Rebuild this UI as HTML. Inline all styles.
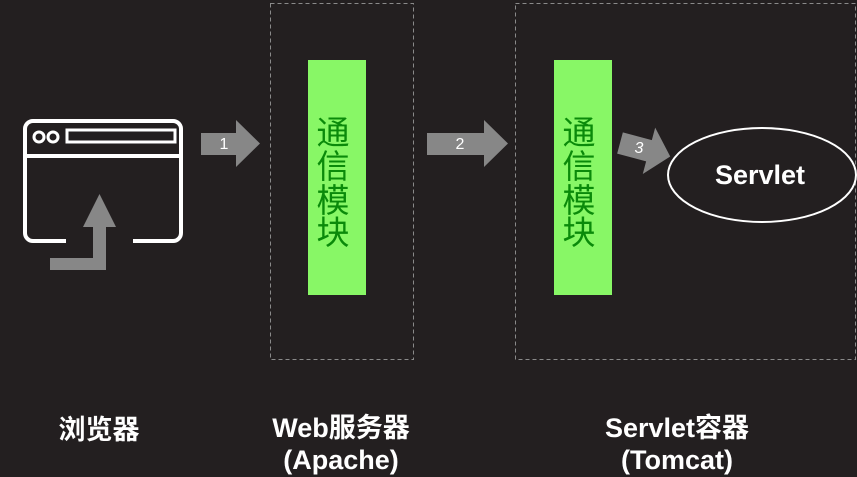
<!DOCTYPE html>
<html><head><meta charset="utf-8"><style>
html,body{margin:0;padding:0;background:#231f20;width:857px;height:477px;overflow:hidden}
</style></head><body>
<svg width="857" height="477" xmlns="http://www.w3.org/2000/svg" style="display:block">
<rect width="857" height="477" fill="#231f20"/>
<rect x="270.5" y="3.5" width="143" height="356" fill="none" stroke="#8a8a8a" stroke-dasharray="4,3"/>
<rect x="515.5" y="3.5" width="340" height="356" fill="none" stroke="#8a8a8a" stroke-dasharray="4,3"/>
<rect x="308" y="60" width="58" height="235" fill="#88f766"/>
<rect x="554" y="60" width="58" height="235" fill="#88f766"/>
<g font-family="'Liberation Sans','Noto Sans CJK SC',sans-serif" font-size="33" fill="#0a8a0a" text-anchor="middle">
<text x="333" y="144">通</text><text x="333" y="178">信</text><text x="333" y="212">模</text><text x="333" y="244">块</text>
<text x="579" y="144">通</text><text x="579" y="178">信</text><text x="579" y="212">模</text><text x="579" y="244">块</text>
</g>
<!-- browser icon -->
<path d="M66,241 H33 a8,8 0 0 1 -8,-8 V129 a8,8 0 0 1 8,-8 H173 a8,8 0 0 1 8,8 V233 a8,8 0 0 1 -8,8 H133" fill="none" stroke="#fff" stroke-width="4"/>
<line x1="25" y1="156" x2="181" y2="156" stroke="#fff" stroke-width="4"/>
<circle cx="39" cy="137" r="5" fill="none" stroke="#fff" stroke-width="3"/>
<circle cx="53" cy="137" r="5" fill="none" stroke="#fff" stroke-width="3"/>
<rect x="67" y="130" width="108" height="12" fill="none" stroke="#fff" stroke-width="3"/>
<path d="M50,258 H93 V227 H83 L99.5,194 L116,227 H106 V270 H50 Z" fill="#878787"/>
<!-- arrows -->
<path d="M201,133 H236 V120 L260,143.5 L236,167 V155 H201 Z" fill="#878787"/>
<path d="M427,133 H484 V120 L508,143.5 L484,167 V155 H427 Z" fill="#878787"/>
<g transform="translate(620,143) rotate(15)">
<path d="M0,-11 H30 V-24 L52,0 L30,24 V11 H0 Z" fill="#878787"/>
</g>
<g font-family="'Liberation Sans',sans-serif" font-size="16" fill="#fff" text-anchor="middle">
<text x="224" y="149">1</text><text x="460" y="149">2</text><text x="639" y="153" font-style="italic">3</text>
</g>
<ellipse cx="762" cy="175" rx="94" ry="47" fill="none" stroke="#fff" stroke-width="2"/>
<text x="760" y="184" font-family="'Liberation Sans',sans-serif" font-weight="bold" font-size="27" fill="#fff" text-anchor="middle">Servlet</text>
<g font-family="'Liberation Sans','Noto Sans CJK SC',sans-serif" font-weight="bold" font-size="27" fill="#fff" text-anchor="middle">
<text x="99" y="439">浏览器</text>
<text x="341" y="437">Web服务器</text>
<text x="341" y="469">(Apache)</text>
<text x="677" y="437">Servlet容器</text>
<text x="677" y="469">(Tomcat)</text>
</g>
</svg>
</body></html>
